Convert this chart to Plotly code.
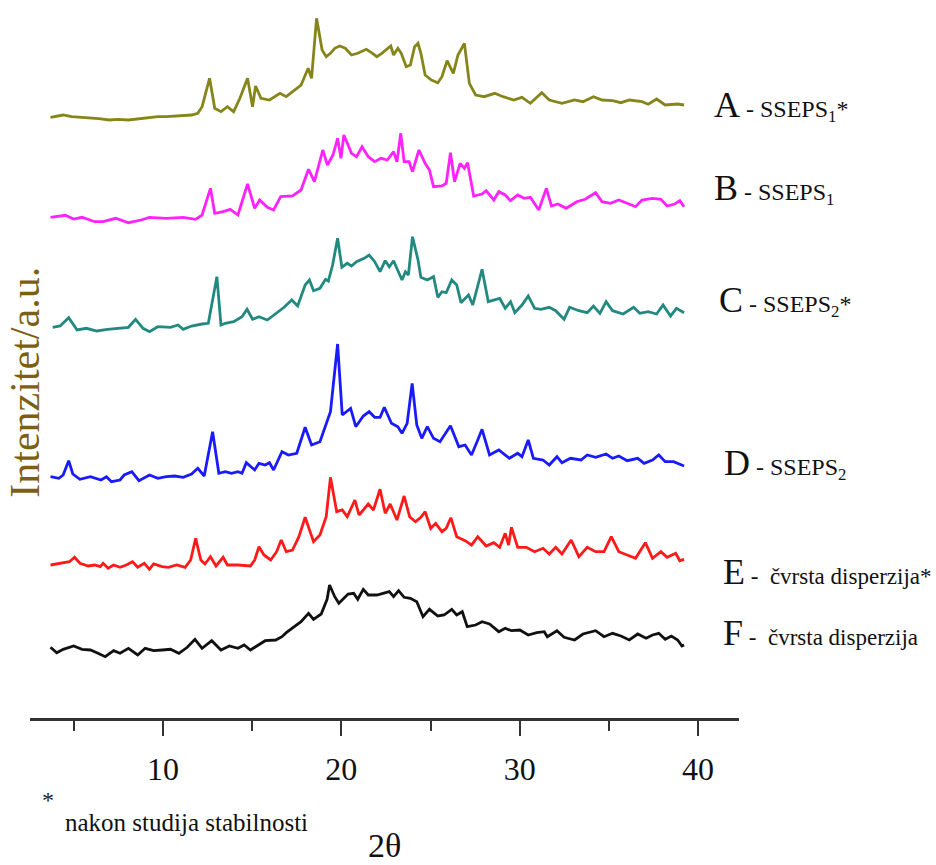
import plotly.graph_objects as go

# ---------------- data (2θ in degrees, intensity in arbitrary units, stacked) ----------------
two_theta_A = [3.69, 4.04, 4.40, 4.87, 5.46, 5.93, 6.40, 6.99, 7.47, 8.06, 8.65, 9.24, 9.71, 10.18, 10.65, 11.13,
               11.60, 11.95, 12.19, 12.61, 12.90, 13.25, 13.61, 13.96,
               14.31, 14.74, 15.02, 15.19, 15.49, 15.97, 16.56, 16.91, 17.26, 17.74, 18.14, 18.33, 18.61, 18.92,
               19.15, 19.39, 19.63, 19.91, 20.22, 20.57, 20.92, 21.40, 21.75, 21.99, 22.27, 22.51, 22.77, 22.93,
               23.17, 23.36, 23.64, 23.87, 24.11, 24.30, 24.46, 24.70, 25.05, 25.41, 25.64, 25.93, 26.28, 26.54,
               26.90, 27.18, 27.53, 28.01, 28.60, 29.07, 29.66, 30.13, 30.60, 31.24, 31.66, 32.37, 33.08, 33.55,
               34.14, 34.62, 35.21, 35.68, 36.15, 36.86, 37.21, 37.68, 38.16, 38.86, 39.22]
intensity_A = [600.7, 602.0, 603.0, 601.3, 600.7, 599.7, 599.3, 598.0, 598.7, 598.0, 599.3, 600.7, 601.3, 601.3, 602.0,
               602.0, 603.0, 604.7, 611.3, 639.7, 609.7, 606.3, 611.3, 606.3,
               619.7, 639.7, 611.3, 632.0, 619.7, 618.0, 624.7, 621.3, 626.3, 633.0, 649.7, 639.7, 699.7, 668.0,
               661.3, 664.7, 669.7, 672.0, 669.7, 663.0, 664.7, 668.7, 664.7, 661.3, 664.7, 668.0, 672.0, 663.0,
               669.7, 664.7, 651.3, 653.0, 671.3, 674.7, 664.7, 643.0, 638.0, 635.3, 641.3, 657.3, 644.7, 663.0,
               674.7, 634.7, 623.0, 621.3, 624.7, 621.3, 618.0, 620.7, 614.7, 625.3, 618.0, 614.7, 618.0, 616.3,
               621.3, 618.0, 617.3, 615.3, 618.0, 616.3, 613.7, 619.0, 613.0, 614.0, 613.0]

two_theta_B = [3.69, 4.52, 4.99, 5.46, 6.17, 6.64, 7.35, 8.06, 8.77, 9.24, 10.18, 11.13, 11.83, 12.19, 12.66, 12.90,
               13.37, 13.77, 14.20, 14.74, 15.14, 15.42, 15.85, 16.20, 16.60, 17.26, 17.74, 18.16, 18.49, 18.96,
               19.22, 19.53, 19.79, 19.98, 20.14, 20.57, 20.85, 21.16, 21.51, 21.87, 22.22, 22.58, 22.93, 23.12,
               23.33, 23.52, 23.80, 23.99, 24.35, 24.70, 24.94, 25.17, 25.64, 25.88, 26.12, 26.35, 26.66, 26.90,
               27.08, 27.42, 27.89, 28.12, 28.55, 28.83, 29.19, 29.49, 29.89, 30.25, 30.60, 31.07, 31.50, 31.78,
               32.14, 32.61, 33.20, 33.67, 34.26, 34.62, 35.09, 35.56, 36.03, 36.50, 36.86, 37.45, 37.92, 38.27,
               38.70, 38.98, 39.22]
intensity_B = [500.7, 502.7, 499.0, 500.7, 496.3, 496.3, 499.7, 495.3, 498.0, 500.7, 499.7, 500.7, 498.7, 503.0, 529.7,
               504.7, 506.3, 508.7, 503.0, 534.0, 509.7, 518.0, 510.7, 508.0, 521.3, 522.0, 528.0, 548.7, 536.3,
               568.0, 553.0, 563.0, 579.7, 559.7, 583.0, 564.7, 561.3, 571.3, 561.3, 556.3, 559.7, 558.0, 566.3,
               556.3, 584.7, 556.3, 556.3, 546.3, 568.0, 554.7, 548.0, 531.3, 532.0, 534.7, 565.3, 536.3, 554.7,
               549.7, 555.3, 522.0, 524.0, 527.3, 518.0, 526.3, 523.0, 517.3, 523.0, 519.7, 520.7, 508.0, 529.7,
               512.0, 514.0, 509.7, 516.3, 518.7, 525.3, 516.3, 514.7, 518.0, 514.7, 511.3, 518.0, 519.7, 518.7,
               512.0, 514.0, 517.3, 511.3]

two_theta_C = [3.81, 4.23, 4.71, 5.18, 5.70, 6.29, 6.88, 7.59, 8.06, 8.46, 8.88, 9.24, 9.71, 10.42, 10.84, 11.13,
               11.60, 12.19, 12.54, 13.02, 13.25, 13.49, 13.96, 14.43, 14.71, 15.02, 15.38, 15.85, 16.32, 16.79,
               17.22, 17.55, 17.97, 18.21, 18.44, 18.80, 19.11, 19.27, 19.51, 19.79, 20.03, 20.33, 20.57, 20.85,
               21.28, 21.56, 21.87, 22.17, 22.46, 22.69, 22.93, 23.17, 23.40, 23.59, 23.76, 23.99, 24.30, 24.46,
               24.82, 25.17, 25.41, 25.64, 25.88, 26.19, 26.47, 26.71, 27.13, 27.37, 27.89, 28.24, 28.60, 28.88,
               29.19, 29.49, 29.73, 30.13, 30.48, 30.84, 31.19, 31.66, 32.02, 32.49, 32.80, 33.32, 33.79, 34.14,
               34.50, 34.85, 35.21, 35.80, 36.39, 36.74, 37.21, 37.68, 38.04, 38.46, 38.79, 39.22]
intensity_C = [390.7, 392.0, 400.3, 388.0, 389.7, 387.0, 388.7, 389.7, 390.7, 398.7, 389.7, 386.3, 391.3, 390.7, 393.0,
               388.7, 392.0, 394.0, 394.7, 441.3, 393.0, 394.7, 396.3, 401.3, 408.7, 398.7, 401.3, 398.0, 404.7,
               410.7, 418.0, 412.0, 433.0, 438.0, 427.3, 429.7, 438.7, 437.0, 453.0, 479.7, 450.7, 454.7, 452.0,
               456.3, 459.7, 463.0, 456.3, 446.3, 457.3, 451.3, 457.3, 448.0, 438.0, 446.3, 443.0, 481.3, 458.0,
               440.7, 438.0, 441.3, 420.7, 426.3, 425.3, 438.0, 433.0, 415.3, 423.0, 413.0, 448.7, 416.3, 418.0,
               419.7, 409.7, 416.3, 405.3, 413.0, 422.0, 409.7, 408.7, 410.7, 407.3, 398.7, 410.7, 407.3, 405.3,
               412.0, 404.7, 416.3, 407.3, 404.0, 410.7, 404.7, 406.3, 404.0, 413.0, 402.0, 409.7, 405.3]

two_theta_D = [3.69, 4.16, 4.40, 4.71, 4.94, 5.34, 5.93, 6.52, 6.83, 7.11, 7.59, 7.82, 8.25, 8.65, 9.24, 9.71,
               10.18, 10.65, 11.13, 11.60, 11.95, 12.31, 12.78, 13.13, 13.49, 13.84, 14.20, 14.43, 14.67, 15.14,
               15.38, 15.73, 15.97, 16.20, 16.67, 17.03, 17.50, 17.97, 18.33, 18.80, 19.39, 19.79, 20.05, 20.52,
               20.81, 21.23, 21.56, 21.87, 22.17, 22.41, 22.81, 23.17, 23.40, 23.69, 23.97, 24.23, 24.51, 24.82,
               25.17, 25.53, 26.12, 26.59, 26.94, 27.30, 27.65, 27.89, 28.31, 28.83, 29.42, 29.89, 30.13, 30.48,
               30.77, 31.31, 31.66, 32.09, 32.37, 32.85, 33.44, 33.79, 34.26, 34.85, 35.21, 35.56, 36.03, 36.62,
               36.98, 37.45, 37.80, 38.16, 38.63, 39.22]
intensity_D = [241.3, 239.7, 243.0, 257.3, 244.0, 238.7, 241.3, 238.0, 241.3, 236.3, 238.0, 243.0, 246.3, 237.3, 243.0,
               239.7, 241.3, 242.0, 240.7, 244.0, 249.7, 242.0, 286.3, 244.7, 246.3, 244.7, 246.3, 244.7, 255.3,
               248.0, 254.7, 253.0, 255.3, 248.0, 266.3, 263.0, 264.7, 290.7, 273.0, 276.3, 306.3, 374.0, 303.0,
               309.7, 291.3, 302.0, 306.3, 300.7, 300.7, 310.7, 294.7, 291.3, 284.7, 294.7, 334.7, 293.0, 279.7,
               291.3, 279.7, 276.3, 292.3, 271.3, 273.0, 263.0, 278.0, 288.7, 263.0, 268.0, 259.7, 264.7, 261.3,
               278.0, 259.7, 258.0, 253.0, 261.3, 255.3, 259.7, 258.0, 263.0, 260.7, 264.0, 259.7, 262.0, 257.3,
               259.7, 254.7, 258.0, 263.0, 256.3, 256.3, 252.0]

two_theta_E = [3.69, 4.28, 4.75, 5.04, 5.34, 5.81, 6.17, 6.48, 6.64, 6.92, 7.23, 7.59, 7.94, 8.29, 8.58, 8.95,
               9.24, 9.47, 9.95, 10.30, 10.77, 11.24, 11.55, 11.83, 12.12, 12.35, 12.66, 12.97, 13.37, 13.61,
               14.20, 14.90, 15.14, 15.38, 15.66, 16.04, 16.37, 16.63, 16.91, 17.26, 17.62, 17.97, 18.44, 18.80,
               19.15, 19.39, 19.74, 20.05, 20.33, 20.76, 20.99, 21.23, 21.51, 21.80, 22.17, 22.46, 22.74, 23.12,
               23.52, 23.83, 24.16, 24.46, 24.70, 25.01, 25.29, 25.64, 25.88, 26.14, 26.47, 26.94, 27.30, 27.65,
               28.12, 28.55, 28.88, 29.19, 29.38, 29.54, 29.89, 30.37, 30.84, 31.31, 31.66, 32.02, 32.37, 32.89,
               33.32, 33.79, 34.26, 34.73, 35.14, 35.56, 36.03, 36.50, 37.05, 37.45, 37.92, 38.27, 38.75, 38.98,
               39.22]
intensity_E = [153.0, 154.7, 156.3, 160.7, 154.7, 152.0, 153.0, 151.3, 154.7, 149.7, 153.0, 150.7, 153.0, 156.3, 150.7,
               154.7, 148.7, 154.0, 151.3, 150.7, 153.0, 150.7, 158.0, 179.7, 158.0, 154.0, 161.3, 152.0, 160.7,
               153.0, 153.0, 152.0, 158.0, 171.3, 163.0, 158.0, 166.3, 178.0, 166.3, 168.0, 181.3, 200.7, 176.3,
               183.0, 201.3, 240.7, 206.3, 208.0, 201.3, 218.0, 203.0, 208.0, 214.0, 208.0, 228.7, 204.7, 214.0,
               198.0, 222.0, 201.3, 196.3, 200.7, 206.3, 189.7, 194.7, 186.3, 189.7, 200.3, 181.3, 177.3, 173.0,
               181.3, 172.0, 175.3, 170.7, 184.7, 173.0, 190.7, 170.7, 170.7, 166.3, 169.7, 164.0, 170.7, 164.0,
               178.0, 161.3, 170.7, 166.3, 166.3, 181.3, 166.3, 163.0, 159.7, 175.3, 159.7, 166.3, 160.7, 164.7,
               157.3, 158.7]

two_theta_F = [3.69, 4.04, 4.40, 4.99, 5.46, 5.93, 6.29, 6.76, 7.23, 7.59, 8.06, 8.58, 9.00, 9.47, 9.95, 10.42,
               10.89, 11.36, 11.79, 12.19, 12.73, 13.25, 13.72, 14.20, 14.55, 14.90, 15.26, 15.73, 16.32, 16.67,
               16.91, 17.26, 17.74, 18.16, 18.44, 18.87, 19.20, 19.34, 19.63, 19.86, 20.10, 20.38, 20.69, 20.92,
               21.23, 21.51, 21.99, 22.34, 22.69, 22.93, 23.21, 23.52, 23.87, 24.23, 24.58, 24.94, 25.41, 25.76,
               26.19, 26.47, 26.78, 27.06, 27.53, 27.89, 28.31, 28.83, 29.19, 29.54, 30.01, 30.48, 30.96, 31.38,
               31.55, 32.09, 32.49, 33.08, 33.55, 34.26, 34.73, 35.21, 35.68, 36.15, 36.62, 37.09, 37.45, 37.80,
               38.16, 38.51, 38.86, 39.10, 39.22]
intensity_F = [70.7, 65.3, 68.7, 72.0, 68.7, 68.0, 65.3, 61.3, 67.3, 64.7, 69.7, 63.0, 69.7, 67.3, 68.0, 68.7,
               64.7, 70.7, 78.7, 69.7, 77.3, 68.0, 72.0, 69.7, 73.0, 68.0, 72.0, 77.3, 78.0, 81.3,
               85.3, 89.7, 96.3, 104.7, 98.7, 104.0, 118.7, 133.0, 121.3, 114.7, 118.7, 124.0, 124.7, 118.7,
               128.7, 123.0, 123.0, 124.7, 126.3, 121.3, 127.3, 120.7, 119.7, 116.3, 101.3, 108.7, 102.0, 103.0,
               108.7, 103.0, 106.3, 91.3, 93.0, 96.3, 94.0, 86.3, 89.7, 87.3, 88.0, 83.0, 85.3, 86.3,
               81.3, 87.3, 80.7, 78.0, 84.0, 87.3, 81.3, 84.7, 82.0, 78.0, 84.0, 79.7, 83.0, 84.7,
               78.7, 82.0, 78.0, 72.0, 73.0]

series_letters = ["A", "B", "C", "D", "E", "F"]
series_names = ["SSEPS<sub>1</sub>*", "SSEPS<sub>1</sub>", "SSEPS<sub>2</sub>*", "SSEPS<sub>2</sub>",
                " čvrsta disperzija*", " čvrsta disperzija"]
series_name_sizes = [24, 24, 24, 24, 23, 23]
series_colors = ["#85851a", "#ff22ff", "#21897f", "#1a1aff", "#ff1a1a", "#111111"]
series_x = [two_theta_A, two_theta_B, two_theta_C, two_theta_D, two_theta_E, two_theta_F]
series_y = [intensity_A, intensity_B, intensity_C, intensity_D, intensity_E, intensity_F]

# label anchor positions (x in 2θ units, y in a.u.)
label_x = [40.78, 40.80, 41.06, 41.34, 41.28, 41.28]
label_y = [613, 530, 418, 255, 146, 85]

x_ticks = [10, 20, 30, 40]
x_minor_ticks = [5, 15, 25, 35]
x_range = [2.54, 42.30]
y_range = [0, 718]

SERIF = "Liberation Serif"

fig = go.Figure()
for xs, ys, col, let in zip(series_x, series_y, series_colors, series_letters):
    fig.add_trace(go.Scatter(x=xs, y=ys, mode="lines", name=let,
                             line=dict(color=col, width=2.8), showlegend=False))

annotations = []
for let, nm, sz, lx, ly in zip(series_letters, series_names, series_name_sizes, label_x, label_y):
    annotations.append(dict(
        x=lx, y=ly, xref="x", yref="y", xanchor="left", yanchor="middle", showarrow=False,
        text=(f"<span style='font-family:{SERIF};font-size:36px'>{let}</span>"
              f"<span style='font-family:{SERIF};font-size:{sz}px'> - {nm}</span>"),
        font=dict(family=SERIF, size=sz, color="#111111")))

annotations += [
    dict(x=-0.007, y=0.467, xref="paper", yref="paper", xanchor="center", yanchor="middle",
         text="Intenzitet/a.u.", textangle=-90, showarrow=False,
         font=dict(family=SERIF, size=42, color="#7d5f12")),
    dict(x=0.0254, y=-0.114, xref="paper", yref="paper", xanchor="center", yanchor="middle",
         text="*", showarrow=False,
         font=dict(family=SERIF, size=24, color="#222222")),
    dict(x=0.0465, y=-0.145, xref="paper", yref="paper", xanchor="left", yanchor="middle",
         text="nakon studija stabilnosti", showarrow=False,
         font=dict(family=SERIF, size=25, color="#111111")),
    dict(x=0.5007, y=-0.177, xref="paper", yref="paper", xanchor="center", yanchor="middle",
         text="2θ", showarrow=False, font=dict(family=SERIF, size=34, color="#111111")),
]

fig.update_layout(
    width=936, height=865,
    margin=dict(l=30, r=197, t=0, b=147),
    paper_bgcolor="white", plot_bgcolor="white",
    font=dict(family=SERIF),
    annotations=annotations,
    xaxis=dict(range=x_range, tickvals=x_ticks, ticks="outside", ticklen=15, tickwidth=2,
               tickcolor="#333333", showline=True, linewidth=3, linecolor="#333333",
               showgrid=False, zeroline=False, ticklabelstandoff=6,
               tickfont=dict(family=SERIF, size=32, color="#111111"),
               minor=dict(tickvals=x_minor_ticks, ticks="outside", ticklen=10, tickwidth=2,
                          tickcolor="#333333", showgrid=False)),
    yaxis=dict(range=y_range, visible=False, showgrid=False, zeroline=False),
)

fig.write_html("out.html", config={"displayModeBar": False},
               post_script="document.body.style.margin='0';")
